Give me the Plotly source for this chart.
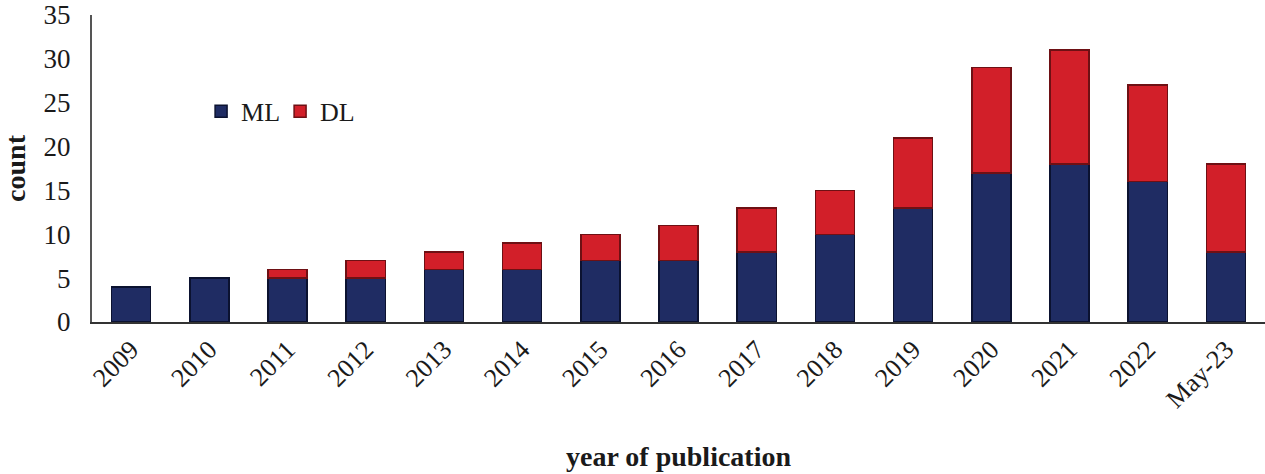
import plotly.graph_objects as go

years = ["2009", "2010", "2011", "2012", "2013", "2014", "2015", "2016",
         "2017", "2018", "2019", "2020", "2021", "2022", "May-23"]
ml_counts = [4, 5, 5, 5, 6, 6, 7, 7, 8, 10, 13, 17, 18, 16, 8]
dl_counts = [0, 0, 1, 2, 2, 3, 3, 4, 5, 5, 8, 12, 13, 11, 10]
y_ticks = [0, 5, 10, 15, 20, 25, 30, 35]

FONT = "Liberation Serif, Times New Roman, serif"

fig = go.Figure()
fig.add_trace(go.Bar(
    x=years, y=[v if v else None for v in ml_counts], name="ML",
    marker=dict(color="#1f2c63", line=dict(color="#0b1230", width=1.5)),
))
fig.add_trace(go.Bar(
    x=years, y=[v if v else None for v in dl_counts], name="DL",
    marker=dict(color="#d21f29", line=dict(color="#6e1014", width=1.5)),
))

fig.update_layout(
    barmode="stack",
    bargap=0.5,
    width=1265, height=474,
    margin=dict(l=92, r=0, t=15, b=152, autoexpand=False),
    paper_bgcolor="white",
    plot_bgcolor="white",
    font=dict(family=FONT, size=26, color="#1a1a1a"),
    showlegend=True,
    legend=dict(
        orientation="h", x=0.093, y=0.6865, xanchor="left", yanchor="middle",
        font=dict(family=FONT, size=26, color="#1a1a1a"),
        bgcolor="rgba(0,0,0,0)", traceorder="normal", itemwidth=30,
        entrywidth=34, entrywidthmode="pixels",
    ),
)
fig.update_xaxes(
    type="category", automargin=False,
    showline=True, linecolor="#333333", linewidth=2,
    showgrid=False, ticks="", tickangle=-45,
    tickfont=dict(family=FONT, size=26),
    title=dict(text="<b>year of publication</b>", font=dict(family=FONT, size=28), standoff=34),
)
fig.update_yaxes(
    range=[0, 35], tickvals=y_ticks, automargin=False,
    showline=True, linecolor="#555555", linewidth=2,
    showgrid=False, ticks="", zeroline=False, ticklabelstandoff=14,
    ticklabeloverflow="allow",
    tickfont=dict(family=FONT, size=27),
    title=dict(text="<b>count</b>", font=dict(family=FONT, size=28), standoff=16),
)

fig.write_html(
    "out.html",
    config={"displayModeBar": False},
    post_script="document.body.style.margin='0';document.body.style.overflow='hidden';",
)
